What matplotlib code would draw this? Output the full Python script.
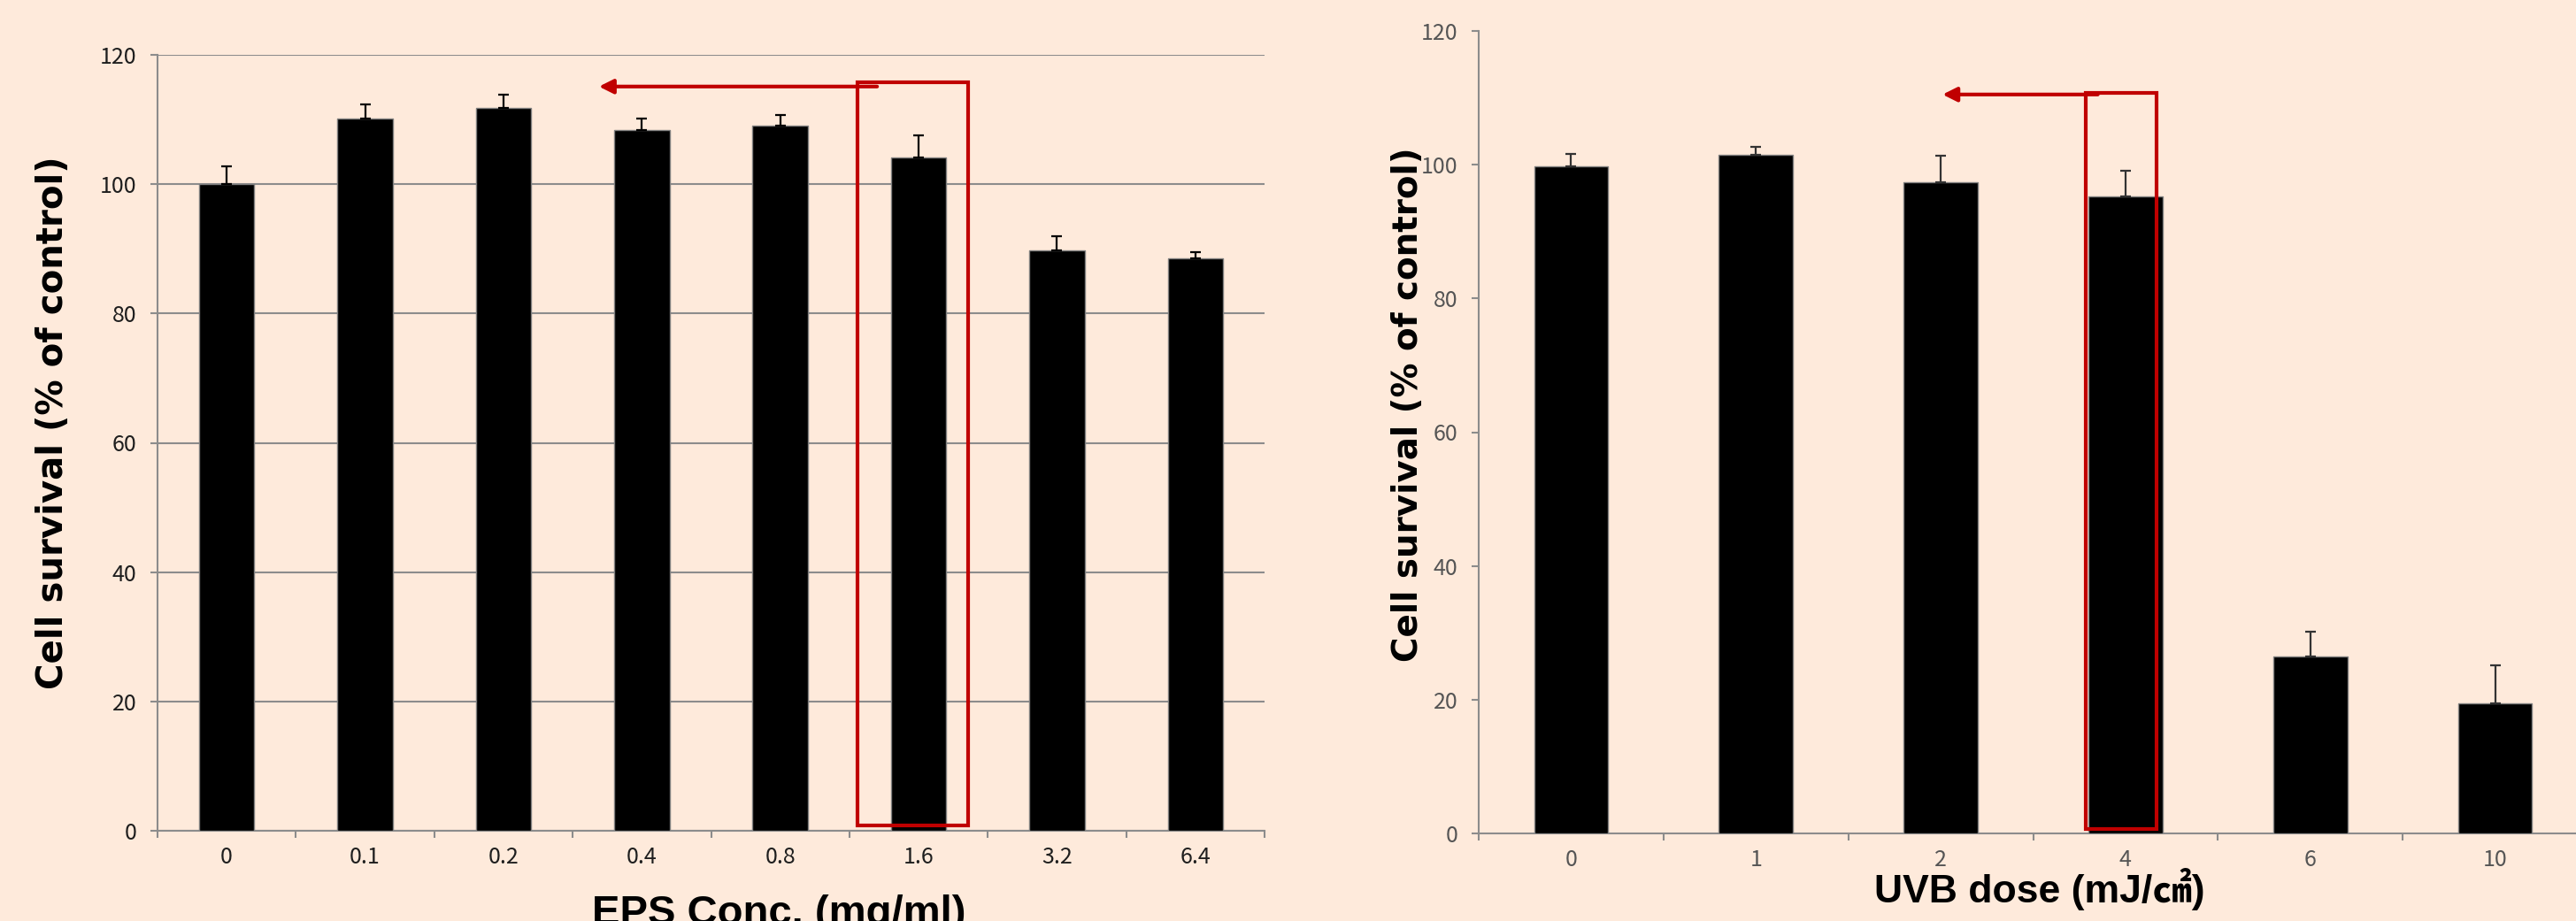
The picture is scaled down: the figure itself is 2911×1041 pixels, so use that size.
import matplotlib
matplotlib.use("Agg")
import matplotlib.pyplot as plt
from matplotlib.patches import Rectangle
import numpy as np

# EPS concentration series (mg/ml)
eps_conc = ["0", "0.1", "0.2", "0.4", "0.8", "1.6", "3.2", "6.4"]
eps_survival = [100.0, 110.1, 111.8, 108.4, 109.0, 104.1, 89.8, 88.5]
eps_sd = [2.7, 2.2, 2.1, 1.8, 1.7, 3.4, 2.1, 1.0]

# UVB dose series (mJ/cm2)
uvb_dose = ["0", "1", "2", "4", "6", "10"]
uvb_survival = [99.8, 101.5, 97.4, 95.2, 26.5, 19.4]
uvb_sd = [1.8, 1.2, 4.0, 3.9, 3.7, 5.7]

y_ticks = [0, 20, 40, 60, 80, 100, 120]

BG = "#feeadb"
RED = "#c00000"
W, H = 2911, 1041

TICK_FAMILY = ["Noto Sans CJK KR", "DejaVu Sans"]
TITLE_FAMILY = ["Liberation Sans", "Noto Sans CJK KR", "DejaVu Sans"]


def px_axes(fig, x0, x1, y_top, y_bot):
    return fig.add_axes([x0 / W, 1 - y_bot / H, (x1 - x0) / W, (y_bot - y_top) / H])


def draw_panel(ax, labels, values, errs, tick_color, err_color, grid):
    x = np.arange(len(labels))
    ax.set_facecolor(BG)
    ax.bar(x, values, width=0.4, color="black", edgecolor="#7f7f7f",
           linewidth=1, zorder=3)
    ax.errorbar(x, values, yerr=[np.zeros(len(x)), errs], fmt="none",
                ecolor=err_color, elinewidth=1.6, capsize=4.5, capthick=1.6,
                zorder=4)
    ax.set_xlim(-0.5, len(x) - 0.5)
    ax.set_ylim(0, 120)
    ax.set_yticks(y_ticks)
    ax.set_xticks(x)
    ax.set_xticklabels(labels)
    ax.set_xticks(np.arange(-0.5, len(x)), minor=True)
    ax.tick_params(axis="x", which="major", length=0, pad=12)
    ax.tick_params(axis="x", which="minor", length=6, width=1.5,
                   color="#8c8c8c", direction="out")
    ax.tick_params(axis="y", length=6, width=1.5, color="#8c8c8c", pad=11)
    for lab in ax.get_xticklabels() + ax.get_yticklabels():
        lab.set_fontfamily(TICK_FAMILY)
        lab.set_fontsize(18)
        lab.set_color(tick_color)
    for s in ("top", "right"):
        ax.spines[s].set_visible(False)
    for s in ("left", "bottom"):
        ax.spines[s].set_color("#8c8c8c")
        ax.spines[s].set_linewidth(1.5)
    if grid:
        ax.yaxis.grid(True, color="#8c8c8c", linewidth=1.5)
        ax.set_axisbelow(True)


fig = plt.figure(figsize=(W / 100, H / 100), dpi=100, facecolor=BG)

# left panel: EPS concentration
ax1 = px_axes(fig, 178, 1429, 62, 939)
draw_panel(ax1, eps_conc, eps_survival, eps_sd, "#1e1e1e", "black", True)
ax1.add_patch(Rectangle((4.56, 0.8), 0.795, 114.9, fill=False,
                        edgecolor=RED, linewidth=3, zorder=5))
ax1.annotate("", xy=(2.69, 115.1), xytext=(4.7, 115.1),
             arrowprops=dict(arrowstyle="-|>", color=RED, lw=3,
                             mutation_scale=24, shrinkA=0, shrinkB=0),
             zorder=5)

# right panel: UVB dose
ax2 = px_axes(fig, 1671, 2924, 35, 942)
draw_panel(ax2, uvb_dose, uvb_survival, uvb_sd, "#555555", "#333333", False)
ax2.add_patch(Rectangle((2.785, 0.7), 0.385, 110.0, fill=False,
                        edgecolor=RED, linewidth=3, zorder=5))
ax2.annotate("", xy=(2.01, 110.5), xytext=(2.85, 110.5),
             arrowprops=dict(arrowstyle="-|>", color=RED, lw=3,
                             mutation_scale=24, shrinkA=0, shrinkB=0),
             zorder=5)

# axis titles
ylab = "Cell survival (% of control)"
fig.text(60 / W, 1 - 478 / H, ylab, rotation=90, ha="center", va="center",
         fontsize=29, fontweight="bold", family="DejaVu Sans")
fig.text(1591 / W, 1 - 457 / H, ylab, rotation=90, ha="center", va="center",
         fontsize=28, fontweight="bold", family="DejaVu Sans")
fig.text(880 / W, 1 - 1045 / H, "EPS Conc. (mg/ml)", ha="center",
         va="baseline", fontsize=34, fontweight="bold", family=TITLE_FAMILY)
fig.text(2305 / W, 1 - 1020 / H, "UVB dose (mJ/\u33a0)", ha="center",
         va="baseline", fontsize=32, fontweight="bold", family=TITLE_FAMILY)

fig.savefig("out.png", dpi=100, facecolor=BG)
